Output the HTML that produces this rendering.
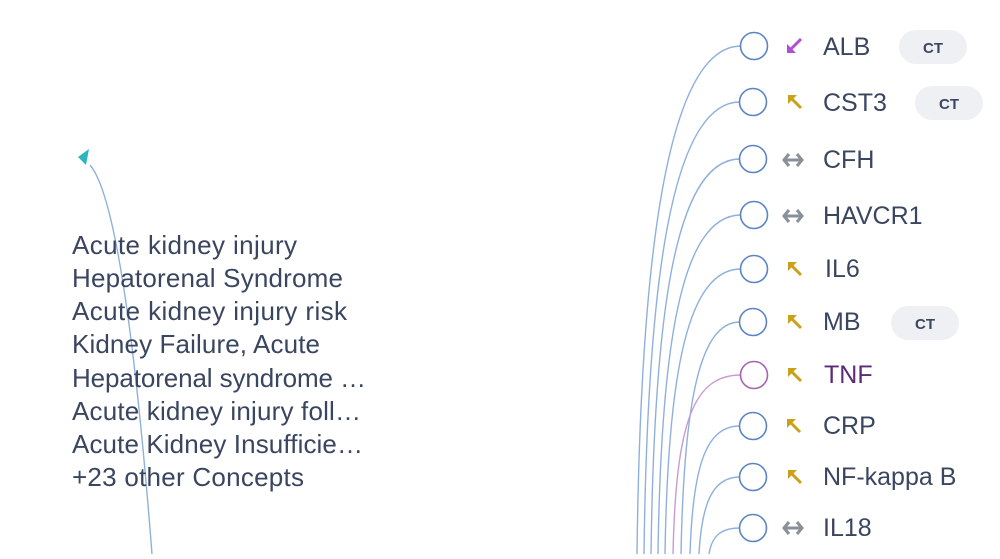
<!DOCTYPE html>
<html><head><meta charset="utf-8"><style>
body{margin:0;width:1000px;height:554px;background:#fff;overflow:hidden;font-family:"Liberation Sans",sans-serif}
</style></head><body>
<svg width="1000" height="554" viewBox="0 0 1000 554" xmlns="http://www.w3.org/2000/svg">
<g fill="none" stroke="#8fb0dc" stroke-width="1.4">
<path d="M152 554 C140 400 120 200 90 165"/>
<path d="M637 554 C640 300 660 46 741 46"/>
<path d="M644 554 C647 320 665 102 740 102"/>
<path d="M651 554 C654 330 672 159 740 159"/>
<path d="M658 554 C661 350 680 215 741 215"/>
<path d="M665 554 C668 370 688 269 741 269"/>
<path d="M681 554 C684 400 700 322 740 322"/>
<path d="M673 554 C676 420 694 375 741 375" stroke="#c99bd6"/>
<path d="M690 554 C693 460 708 426 740 426"/>
<path d="M699 554 C702 500 714 477 740 477"/>
<path d="M709 554 C712 535 722 528 740 528"/>
</g>
<path d="M78 157 L89 149 L86 165 Z" fill="#2bb5be"/>
<g fill="#fff" stroke="#5b84c4" stroke-width="1.6">
<circle cx="754" cy="46" r="13.5"/><circle cx="753" cy="102" r="13.5"/><circle cx="753" cy="159" r="13.5"/>
<circle cx="754" cy="215" r="13.5"/><circle cx="754" cy="269" r="13.5"/><circle cx="753" cy="322" r="13.5"/>
<circle cx="754" cy="375" r="13.5" stroke="#a463b3"/><circle cx="753" cy="426" r="13.5"/><circle cx="753" cy="477" r="13.5"/>
<circle cx="753" cy="528" r="13.5"/>
</g>
<g font-size="25" fill="#3a4560">
<text x="823" y="55">ALB</text><text x="823" y="111">CST3</text><text x="823" y="168">CFH</text>
<text x="823" y="224">HAVCR1</text><text x="825" y="277">IL6</text><text x="823" y="330">MB</text>
<text x="824" y="383" fill="#5c2a78">TNF</text><text x="823" y="434">CRP</text><text x="823" y="485">NF-kappa B</text>
<text x="823" y="536">IL18</text>
</g>
<g fill="#eef0f3"><rect x="899" y="30" width="68" height="34" rx="17"/><rect x="915" y="86" width="68" height="34" rx="17"/><rect x="891" y="306" width="68" height="34" rx="17"/></g>
<g font-size="15" font-weight="bold" fill="#3a4560" text-anchor="middle"><text x="933" y="53">CT</text><text x="949" y="109">CT</text><text x="925" y="329">CT</text></g>
<defs>
<g id="up"><path d="M4 4 L15 15" stroke="#c9a21a" stroke-width="3" fill="none"/><path d="M2 2 L11 2 L2 11 Z" fill="#c9a21a"/></g>
<g id="lr" fill="none" stroke="#8a9099" stroke-width="3"><path d="M6 -6 L1 0 L6 6 M14 -6 L19 0 L14 6 M2 0 L18 0"/></g>
</defs>
<g transform="translate(786,38)"><path d="M15 1 L4 12" stroke="#b04fd6" stroke-width="3"/><path d="M1 15 L1 6 L10 15 Z" fill="#b04fd6"/></g>
<use href="#up" x="786" y="93"/>
<use href="#lr" x="783" y="160"/>
<use href="#lr" x="783" y="216"/>
<use href="#up" x="786" y="260"/>
<use href="#up" x="786" y="313"/>
<use href="#up" x="786" y="366"/>
<use href="#up" x="785" y="417"/>
<use href="#up" x="786" y="468"/>
<use href="#lr" x="783" y="528"/>
<g font-size="26" fill="#3a4560">
<text x="72" y="254" textLength="225">Acute kidney injury</text>
<text x="72" y="287" textLength="271">Hepatorenal Syndrome</text>
<text x="72" y="320" textLength="275">Acute kidney injury risk</text>
<text x="72" y="353" textLength="248">Kidney Failure, Acute</text>
<text x="72" y="387" textLength="294">Hepatorenal syndrome …</text>
<text x="72" y="420" textLength="289">Acute kidney injury foll…</text>
<text x="72" y="453" textLength="291">Acute Kidney Insufficie…</text>
<text x="72" y="486" textLength="232">+23 other Concepts</text>
</g>
</svg>
</body></html>
